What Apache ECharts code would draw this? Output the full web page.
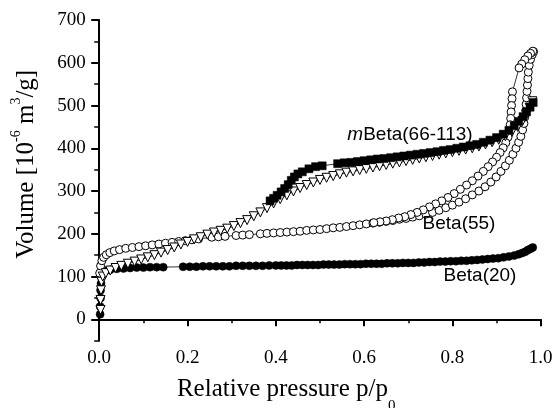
<!DOCTYPE html>
<html>
<head>
<meta charset="utf-8">
<script src="https://cdn.jsdelivr.net/npm/echarts@6/dist/echarts.min.js"></script>
<style>
  html, body { margin: 0; padding: 0; background: #fff; }
  #chart { width: 555px; height: 408px; }
</style>
</head>
<body>
<div id="chart"></div>
<script>
// tick values
var xMajor = [0, 0.2, 0.4, 0.6, 0.8, 1.0];
var xMinor = [0.1, 0.3, 0.5, 0.7, 0.9];
var yMajor = [0, 100, 200, 300, 400, 500, 600, 700];
var yMinor = [-50, 50, 150, 250, 350, 450, 550, 650];

// Beta(20) - filled circles [p/p0, volume]
var beta20 = [
  [0.002,12],[0.002,30],[0.003,50],[0.003,68],[0.004,84],[0.005,98],[0.008,108],[0.014,113],
  [0.025,116],[0.04,118],[0.055,119],[0.07,120],[0.085,121],[0.1,121],[0.115,122],[0.13,122],[0.145,122],
  [0.19,123],[0.205,123],[0.22,123],[0.235,124],[0.25,124],[0.265,124],[0.28,124],[0.295,124],[0.31,125],
  [0.325,125],[0.34,125],[0.355,125],[0.37,125],[0.385,126],[0.4,126],[0.412,126],[0.424,126],[0.436,126],
  [0.448,127],[0.46,127],[0.472,127],[0.484,127],[0.496,127],[0.508,128],[0.52,128],[0.532,128],[0.544,128],
  [0.556,129],[0.568,129],[0.58,129],[0.592,129],[0.604,130],[0.616,130],[0.628,130],[0.64,130],[0.652,131],
  [0.664,131],[0.676,131],[0.688,132],[0.7,132],[0.712,132],[0.724,133],[0.736,133],[0.748,134],[0.76,134],
  [0.772,135],[0.784,135],[0.796,136],[0.808,136],[0.82,137],[0.832,137],[0.844,138],[0.856,139],[0.868,140],
  [0.88,141],[0.892,142],[0.904,143],[0.916,145],[0.928,147],[0.94,149],[0.95,152],[0.958,155],[0.965,158],
  [0.971,162],[0.977,165],[0.982,168]
];

// Beta(55) - open circles, adsorption
var beta55Ads = [
  [0.001,108],[0.003,125],[0.006,137],[0.01,145],[0.016,151],[0.024,156],[0.034,160],[0.046,163],[0.06,166],
  [0.075,168],[0.09,170],[0.105,172],[0.12,174],[0.135,176],[0.15,178],[0.165,180],[0.18,182],[0.195,184],
  [0.21,186],[0.225,188],[0.255,192],[0.27,193],[0.285,194],[0.31,196],[0.325,197],[0.34,198],[0.365,200],
  [0.38,201],[0.395,202],[0.41,203],[0.425,204],[0.44,205],[0.455,206],[0.47,208],[0.485,209],[0.5,210],
  [0.515,212],[0.53,214],[0.545,215],[0.56,217],[0.575,219],[0.59,221],[0.605,223],[0.62,225],[0.635,227],
  [0.65,229],[0.665,231],[0.68,234],[0.695,236],[0.71,239],[0.725,242],[0.74,246],[0.755,250],[0.77,255],
  [0.785,261],[0.8,267],[0.815,274],[0.83,282],[0.845,291],[0.86,300],[0.874,310],[0.887,321],[0.899,333],
  [0.91,346],[0.92,359],[0.929,372],[0.937,386],[0.944,400],[0.95,414],[0.955,428],[0.959,443],[0.962,458],
  [0.964,473],[0.966,488],[0.967,503],[0.968,518],[0.969,533],[0.97,548],[0.971,563],[0.972,578],[0.974,594],
  [0.977,608],[0.981,619],[0.984,626]
];

// Beta(55) - open circles, desorption
var beta55Des = [
  [0.982,627],[0.977,622],[0.971,616],[0.964,607],[0.957,597],[0.951,588],
  [0.936,532],[0.935,516],[0.934,500],[0.933,485],[0.932,470],[0.931,455],[0.929,440],[0.926,426],[0.921,413],
  [0.915,401],[0.908,390],[0.9,379],[0.891,368],[0.881,357],[0.87,346],[0.858,335],[0.845,324],[0.832,314],
  [0.818,304],[0.804,294],[0.79,285],[0.776,277],[0.762,270],[0.748,263],[0.734,256],[0.72,250],[0.706,245],
  [0.692,240],[0.678,237],[0.664,233],[0.65,230],[0.636,228],[0.622,226]
];

// mBeta(66-113) - open triangles, adsorption
var mBetaAds = [
  [0.003,22],[0.003,45],[0.004,68],[0.005,88],[0.008,100],[0.015,108],[0.025,114],[0.037,120],[0.05,125],
  [0.065,130],[0.08,135],[0.095,140],[0.11,145],[0.125,150],[0.14,156],[0.155,162],[0.17,168],[0.185,175],
  [0.2,181],[0.215,187],[0.23,192],[0.245,198],[0.26,203],[0.275,207],[0.29,212],[0.305,218],[0.32,225],
  [0.335,232],[0.35,241],[0.365,250],[0.38,260],[0.395,271],[0.41,281],[0.425,290],[0.44,299],[0.455,307],
  [0.47,314],[0.485,320],[0.5,326],[0.515,331],[0.53,335],[0.545,339],[0.56,343],[0.575,346],[0.59,349],
  [0.605,352],[0.62,355],[0.635,358],[0.65,361],[0.665,364],[0.68,367],[0.695,370],[0.71,373],[0.725,376],
  [0.74,379],[0.755,382],[0.77,385],[0.785,388],[0.8,391],[0.815,394],[0.83,397],[0.845,400],[0.86,404],
  [0.875,409],[0.89,414],[0.905,420],[0.92,428],[0.935,438],[0.948,450],[0.959,464],[0.968,479],[0.975,495],
  [0.981,510]
];

// mBeta(66-113) - filled squares, desorption
var mBetaDes = [
  [0.983,507],[0.976,496],[0.968,485],[0.96,474],[0.95,463],[0.94,453],[0.928,442],[0.915,433],[0.9,425],
  [0.885,419],[0.87,414],[0.855,409],[0.84,406],[0.825,403],[0.81,400],[0.795,397],[0.78,395],[0.765,392],
  [0.75,390],[0.735,388],[0.72,386],[0.705,384],[0.69,382],[0.675,380],[0.66,378],[0.645,376],[0.63,375],
  [0.615,373],[0.6,371],[0.585,369],[0.57,367],[0.555,366],[0.54,364],[0.505,359],[0.49,357],[0.475,352],
  [0.46,345],[0.45,340],[0.442,333],[0.435,325],[0.428,315],[0.42,306],[0.412,298],[0.403,290],[0.395,283],
  [0.387,277]
];

var serif = '"Liberation Serif", "Times New Roman", serif';
var sans = '"Liberation Sans", Arial, sans-serif';

var chart = echarts.init(document.getElementById('chart'));

function mkSeries(name, data, symbol, size, filled, rotate) {
  return {
    name: name,
    type: 'line',
    data: data,
    symbol: symbol,
    symbolSize: size,
    symbolRotate: rotate || 0,
    showAllSymbol: true,
    lineStyle: { color: '#000', width: 0.8 },
    itemStyle: filled
      ? { color: '#000', borderColor: '#000', borderWidth: 0.5 }
      : { color: '#fff', borderColor: '#000', borderWidth: 1 },
    emphasis: { disabled: true },
    z: 2
  };
}

var option = {
  animation: false,
  backgroundColor: '#fff',
  grid: { left: 95.7, right: 14.3, top: 20, bottom: 67.3, outerBoundsMode: 'none', containLabel: false },
  xAxis: [{
    type: 'value',
    min: -0.008,
    max: 1.0,
    name: 'Relative pressure p/p{sub|0}',
    nameLocation: 'middle',
    nameGap: 34,
    nameTextStyle: {
      fontFamily: serif, fontSize: 25, color: '#000',
      padding: [0, 64, 0, 0],
      rich: {
        sub: { fontFamily: serif, fontSize: 15, lineHeight: 15, verticalAlign: 'top', padding: [24, 0, 0, 0], color: '#000' }
      },
      lineHeight: 30, verticalAlign: 'top'
    },
    axisLine: { lineStyle: { color: '#000', width: 2 } },
    axisTick: { customValues: xMajor, length: 7, lineStyle: { color: '#000', width: 2 } },
    axisLabel: {
      customValues: xMajor, margin: 8, color: '#000', fontFamily: serif, fontSize: 19,
      formatter: function (v) { return v.toFixed(1); }
    },
    splitLine: { show: false }
  }, {
    type: 'value',
    min: -0.008,
    max: 1.0,
    position: 'bottom',
    axisLine: { show: false },
    axisTick: { customValues: xMinor, length: 4, lineStyle: { color: '#000', width: 1.5 } },
    axisLabel: { show: false },
    splitLine: { show: false }
  }],
  yAxis: [{
    type: 'value',
    min: -50,
    max: 700,
    name: 'Volume [10{sup|-6} m{sup|3}/g]',
    nameLocation: 'middle',
    nameGap: 52,
    nameTextStyle: {
      fontFamily: serif, fontSize: 25, color: '#000',
      padding: [0, 0, 0, 32],
      lineHeight: 34, verticalAlign: 'bottom',
      rich: {
        sup: { fontFamily: serif, fontSize: 14, lineHeight: 12, verticalAlign: 'top', color: '#000' }
      }
    },
    axisLine: { show: true, lineStyle: { color: '#000', width: 2 } },
    axisTick: { show: true, customValues: yMajor, length: 8, lineStyle: { color: '#000', width: 2 } },
    axisLabel: { customValues: yMajor, margin: 10, color: '#000', fontFamily: serif, fontSize: 19 },
    splitLine: { show: false }
  }, {
    type: 'value',
    min: -50,
    max: 700,
    position: 'left',
    axisLine: { show: false },
    axisTick: { show: true, customValues: yMinor, length: 5, lineStyle: { color: '#000', width: 1.5 } },
    axisLabel: { show: false },
    splitLine: { show: false }
  }],
  series: [
    mkSeries('Beta(20)', beta20, 'circle', 8, true),
    mkSeries('Beta(55) ads', beta55Ads, 'circle', 8, false),
    mkSeries('Beta(55) des', beta55Des, 'circle', 8, false),
    mkSeries('mBeta(66-113) ads', mBetaAds, 'triangle', 9, false, 180),
    mkSeries('mBeta(66-113) des', mBetaDes, 'rect', 8, true)
  ],
  graphic: [
    {
      type: 'text', x: 410, y: 135, z: 10,
      style: {
        text: '{i|m}Beta(66-113)', fill: '#000', font: '19px ' + sans,
        align: 'center', verticalAlign: 'middle',
        rich: { i: { fontStyle: 'italic', fontFamily: sans, fontSize: 19, fill: '#000' } }
      }
    },
    {
      type: 'text', x: 459, y: 224, z: 10,
      style: { text: 'Beta(55)', fill: '#000', font: '19px ' + sans, align: 'center', verticalAlign: 'middle' }
    },
    {
      type: 'text', x: 480, y: 276, z: 10,
      style: { text: 'Beta(20)', fill: '#000', font: '19px ' + sans, align: 'center', verticalAlign: 'middle' }
    }
  ]
};

chart.setOption(option);
</script>
</body>
</html>
